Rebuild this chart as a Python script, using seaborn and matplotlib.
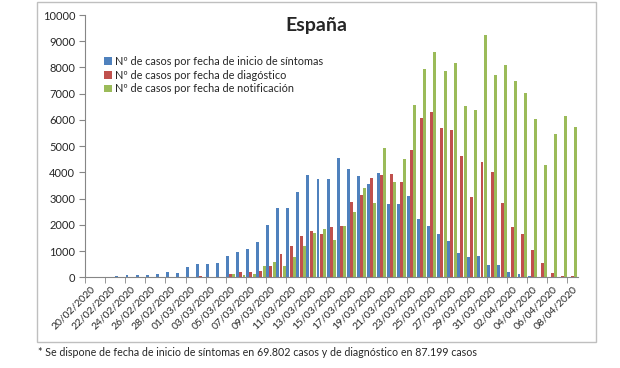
"""Casos COVID-19 en España por fecha de síntomas, diagnóstico y notificación."""

import matplotlib

matplotlib.use("Agg")
import matplotlib.pyplot as plt
import numpy as np
import pandas as pd
import seaborn as sns
from matplotlib.patches import Rectangle

FECHAS = pd.date_range("2020-02-20", "2020-04-08").strftime("%d/%m/%Y").tolist()

SINTOMAS = [
    5, 15, 25, 50, 75, 75, 75, 125, 215, 175,
    405, 495, 505, 540, 810, 965, 1080, 1340, 1985, 2630,
    2640, 3240, 3890, 3750, 3750, 4540, 4110, 3850, 3570, 3960,
    2780, 2780, 3110, 2240, 1955, 1650, 1370, 940, 760, 800,
    470, 470, 215, 125, 50, 10, 0, 0, 0,
]
DIAGNOSTICO = [
    0, 0, 0, 0, 0, 0, 5, 5, 5, 10,
    25, 40, 25, 30, 125, 190, 190, 255, 445, 890,
    1205, 1575, 1755, 1640, 1905, 1970, 2880, 3155, 3775, 3890,
    3925, 3620, 4865, 6085, 6290, 5700, 5615, 4625, 3045, 4385,
    4030, 2845, 1905, 1640, 1040, 560, 175, 40, 60,
]
NOTIFICACION = [
    0, 0, 0, 0, 0, 0, 0, 0, 0, 0,
    5, 10, 15, 25, 115, 75, 125, 445, 595, 445,
    785, 1205, 1675, 1840, 1420, 1945, 2500, 3405, 2820, 4940,
    3620, 4500, 6570, 7930, 8580, 7865, 8180, 6530, 6390, 9225,
    7710, 8090, 7470, 7015, 6020, 4270, 5460, 6160, 5740,
]

SERIES = [
    "Nº de casos por fecha de inicio de síntomas",
    "Nº de casos por fecha de diagóstico",
    "Nº de casos por fecha de notificación",
]
COLORES = ["#4F81BD", "#C0504D", "#9BBB59"]
NOTA = ("* Se dispone de fecha de inicio de síntomas en 69.802 casos "
        "y de diagnóstico en 87.199 casos")


def main():
    df = pd.DataFrame({
        "fecha": FECHAS * 3,
        "casos": SINTOMAS + DIAGNOSTICO + NOTIFICACION,
        "serie": [s for s in SERIES for _ in FECHAS],
    })

    sns.set_style("white")
    plt.rcParams["font.family"] = ["Lato", "DejaVu Sans"]

    fig = plt.figure(figsize=(6.2, 3.68), dpi=100)
    ax = fig.add_axes([85 / 620, 1 - 277.3 / 368, 492.5 / 620, 262.3 / 368])

    sns.barplot(
        data=df, x="fecha", y="casos", hue="serie", order=FECHAS,
        hue_order=SERIES, palette=COLORES, saturation=1,
        width=0.96, gap=0.08, linewidth=0, ax=ax,
    )

    ax.set_xlim(-0.5, len(FECHAS) - 0.5)
    ax.set_ylim(0, 10000)
    ax.set_yticks(np.arange(0, 10001, 1000))
    ax.set_xlabel("")
    ax.set_ylabel("")

    # etiquetas cada dos dias, marcas en los limites de categoria
    ax.set_xticks(range(0, len(FECHAS), 2))
    ax.set_xticklabels(FECHAS[::2], rotation=45, ha="right",
                       rotation_mode="anchor", fontsize=7.5)
    ax.set_xticks(np.arange(-0.5, len(FECHAS) - 1, 2), minor=True)
    ax.tick_params(axis="x", which="major", length=0, pad=5)
    ax.tick_params(axis="x", which="minor", length=4, color="#868686",
                   direction="out", bottom=True)
    ax.tick_params(axis="y", length=4, color="#868686", direction="out",
                   left=True, labelsize=8, pad=3)

    sns.despine(ax=ax)
    for side in ["left", "bottom"]:
        ax.spines[side].set_color("#868686")
        ax.spines[side].set_linewidth(0.8)

    handles, labels = ax.get_legend_handles_labels()
    ax.legend(handles, labels, loc="upper left", bbox_to_anchor=(0.03, 0.86),
              frameon=False, fontsize=7.8, handlelength=0.7, handleheight=0.7,
              handletextpad=0.3, labelspacing=0.25, borderaxespad=0)

    fig.text(316 / 620, 1 - 25 / 368, "España", ha="center", va="center",
             fontsize=14, fontweight="bold")
    fig.text(38 / 620, 1 - 352 / 368, NOTA, ha="left", va="center", fontsize=7.7)

    fig.patches.append(Rectangle(
        (37 / 620, 1 - 341.5 / 368), 558.5 / 620, 339.5 / 368,
        transform=fig.transFigure, fill=False, edgecolor="#BFBFBF", lw=1,
    ))

    fig.savefig("out.png", dpi=100)
    plt.close(fig)


if __name__ == "__main__":
    main()
